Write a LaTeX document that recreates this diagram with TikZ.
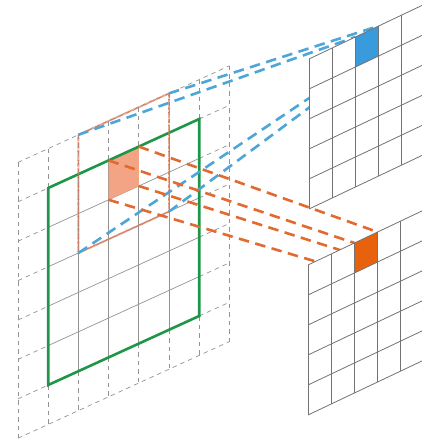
\documentclass[tikz,border=0pt]{standalone}
\definecolor{blueline}{RGB}{76,166,216}
\definecolor{bluecell}{RGB}{58,155,220}
\definecolor{orangeline}{RGB}{226,106,48}
\definecolor{orangecell}{RGB}{232,98,14}
\definecolor{salmon}{RGB}{242,164,132}
\definecolor{greenc}{RGB}{30,150,72}
\definecolor{dotc}{RGB}{218,122,92}
\begin{document}
\begin{tikzpicture}[
  gridline/.style={draw=gray!85, line width=0.7pt},
  griddash/.style={draw=gray!85, line width=0.7pt, dash pattern=on 4.5pt off 4pt},
  greenbox/.style={draw=greenc, line width=2.6pt, line join=miter},
  bluecon/.style={draw=blueline, line width=2.6pt, dash pattern=on 10.5pt off 6.5pt},
  orangecon/.style={draw=orangeline, line width=2.6pt, dash pattern=on 10.5pt off 6.5pt},
  dotbox/.style={draw=dotc, line width=1.9pt, dash pattern=on 0.7pt off 0.6pt},
  outgrid/.style={draw=gray!90!black, line width=0.8pt},
  Lplane/.style={shift={(18pt,-162.4pt)}, x={(30.2pt,13.8pt)}, y={(0pt,-39.4pt)}},
  Uplane/.style={shift={(309pt,-59pt)}, x={(23.2pt,11pt)}, y={(0pt,-30pt)}},
  Dplane/.style={shift={(308pt,-265pt)}, x={(23.2pt,11pt)}, y={(0pt,-30pt)}},
]
\useasboundingbox (0pt,0pt) rectangle (422pt,-441pt);
\clip (0pt,0pt) rectangle (422pt,-441pt);

% left (input) grid
\begin{scope}[Lplane]
  \foreach \i in {0,7} \draw[griddash] (\i,0) -- (\i,7);
  \foreach \j in {0,7} \draw[griddash] (0,\j) -- (7,\j);
  \foreach \k in {1,...,6} {
    \draw[griddash] (\k,0) -- (\k,1);
    \draw[griddash] (\k,6) -- (\k,7);
    \draw[griddash] (0,\k) -- (1,\k);
    \draw[griddash] (6,\k) -- (7,\k);
    \draw[gridline] (\k,1) -- (\k,6);
    \draw[gridline] (1,\k) -- (6,\k);
  }
  \fill[salmon] (3,1) -- (4,1) -- (4,2) -- (3,2) -- cycle;
  \draw[greenbox] (1,1) -- (6,1) -- (6,6) -- (1,6) -- cycle;
  \draw[dotbox] (2,0) -- (5,0) -- (5,3) -- (2,3) -- cycle;
  \coordinate (rTL) at (2,0);
  \coordinate (rTR) at (5,0);
  \coordinate (rBL) at (2,3);
  \coordinate (rBR) at (5,3);
  \coordinate (sTL) at (3,1);
  \coordinate (sTR) at (4,1);
  \coordinate (sBL) at (3,2);
  \coordinate (sBR) at (4,2);
\end{scope}

% target cell corners
\begin{scope}[Uplane]
  \coordinate (bTL) at (2,0);
  \coordinate (bTR) at (3,0);
  \coordinate (bBL) at (2,1);
  \coordinate (bBR) at (3,1);
\end{scope}
\begin{scope}[Dplane]
  \coordinate (oTL) at (2,0);
  \coordinate (oTR) at (3,0);
  \coordinate (oBL) at (2,1);
  \coordinate (oBR) at (3,1);
\end{scope}

% connectors
\draw[bluecon] (rTL) -- (bTL);
\draw[bluecon] (rTR) -- (bTR);
\draw[bluecon] (rBL) -- (bBL);
\draw[bluecon] (rBR) -- (bBR);
\draw[orangecon] (sTL) -- (oTL);
\draw[orangecon] (sTR) -- (oTR);
\draw[orangecon] (sBL) -- (oBL);
\draw[orangecon] (sBR) -- (oBR);

% upper output grid
\begin{scope}[Uplane]
  \fill[white] (0,0) -- (5,0) -- (5,5) -- (0,5) -- cycle;
  \fill[bluecell] (2,0) -- (3,0) -- (3,1) -- (2,1) -- cycle;
  \foreach \k in {0,...,5} {
    \draw[outgrid] (\k,0) -- (\k,5);
    \draw[outgrid] (0,\k) -- (5,\k);
  }
\end{scope}

% lower output grid
\begin{scope}[Dplane]
  \fill[white] (0,0) -- (5,0) -- (5,5) -- (0,5) -- cycle;
  \fill[orangecell] (2,0) -- (3,0) -- (3,1) -- (2,1) -- cycle;
  \foreach \k in {0,...,5} {
    \draw[outgrid] (\k,0) -- (\k,5);
    \draw[outgrid] (0,\k) -- (5,\k);
  }
\end{scope}
\end{tikzpicture}
\end{document}
